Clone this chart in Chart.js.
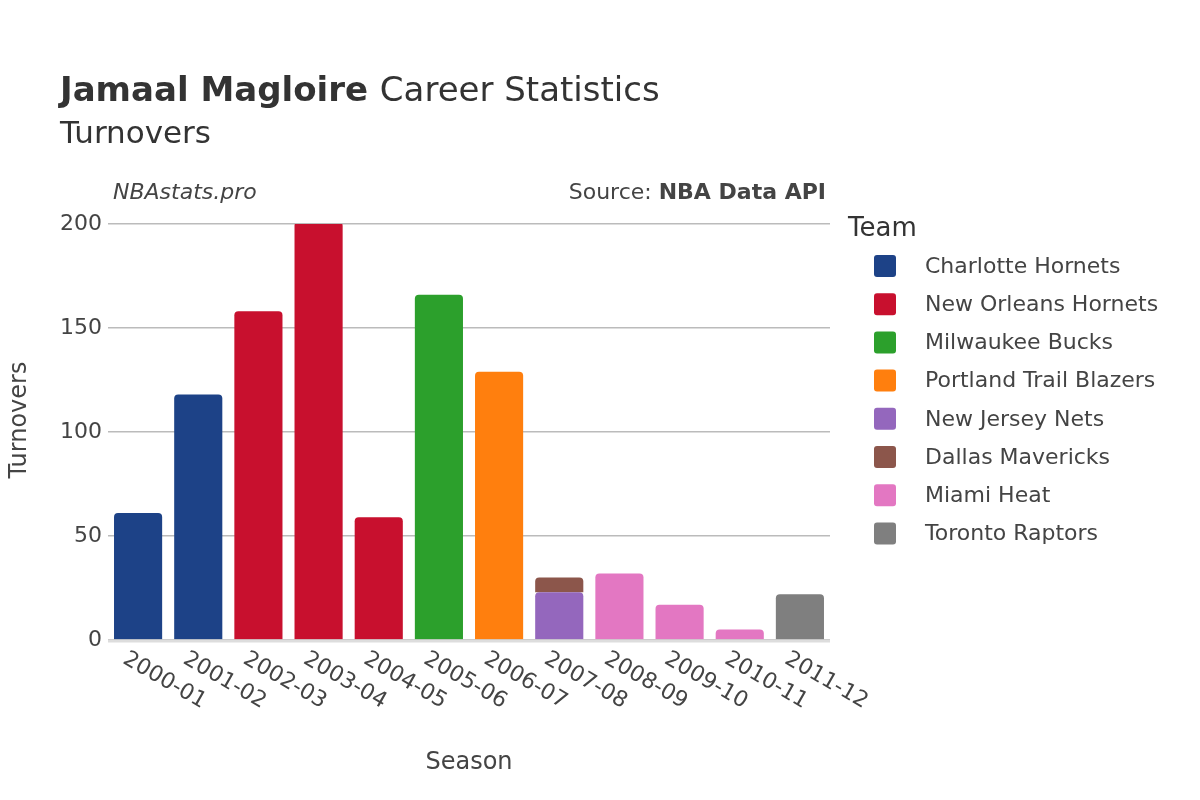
<!DOCTYPE html>
<html><head><meta charset="utf-8">
<script src="https://cdn.jsdelivr.net/npm/chart.js@4/dist/chart.umd.min.js"></script>
<style>body{margin:0;background:#fff}</style></head>
<body><canvas id="c" width="1200" height="800"></canvas>
<script>
const seasons=["2000-01","2001-02","2002-03","2003-04","2004-05","2005-06","2006-07","2007-08","2008-09","2009-10","2010-11","2011-12"];
const teams=["Charlotte Hornets","New Orleans Hornets","Milwaukee Bucks","Portland Trail Blazers","New Jersey Nets","Dallas Mavericks","Miami Heat","Toronto Raptors"];
const colors=["#1d4287","#c8102e","#2ca02c","#ff7f0e","#9467bd","#8c564b","#e377c2","#7f7f7f"];
const charlotte=[61,118,null,null,null,null,null,null,null,null,null,null];
const newOrleans=[null,null,158,201,59,null,null,null,null,null,null,null];
const milwaukee=[null,null,null,null,null,166,null,null,null,null,null,null];
const portland=[null,null,null,null,null,null,129,null,null,null,null,null];
const newJersey=[null,null,null,null,null,null,null,23,null,null,null,null];
const dallas=[null,null,null,null,null,null,null,7,null,null,null,null];
const miami=[null,null,null,null,null,null,null,null,32,17,5,null];
const toronto=[null,null,null,null,null,null,null,null,null,null,null,22];
const yTicks=[0,50,100,150,200];
const series=[charlotte,newOrleans,milwaukee,portland,newJersey,dallas,miami,toronto];
const F='"DejaVu Sans", sans-serif';
const deco={id:'deco',afterDraw(ch){const c=ch.ctx;c.save();
c.fillStyle='#333';c.textBaseline='alphabetic';c.textAlign='left';
c.font='bold 34px '+F;c.fillText('Jamaal Magloire',60,101);
const w=c.measureText('Jamaal Magloire ').width;c.font='34px '+F;c.fillText('Career Statistics',60+w,101);
c.font='31px '+F;c.fillText('Turnovers',60,143);
c.font='italic 22px '+F;c.fillStyle='#444';c.fillText('NBAstats.pro',113,199);
c.textAlign='right';c.font='bold 22px '+F;c.fillText('NBA Data API',826,199);
const bw=c.measureText('NBA Data API').width;c.font='22px '+F;c.fillText('Source: ',826-bw,199);
c.textAlign='left';c.font='26px '+F;c.fillStyle='#333';c.fillText('Team',848,236);
c.font='22px '+F;
teams.forEach((t,i)=>{const y=266+i*38.2;c.fillStyle=colors[i];c.beginPath();c.roundRect(874,y-11,22,22,3);c.fill();
c.fillStyle='#444';c.textBaseline='middle';c.fillText(t,925,y+1);});
const xs=ch.scales.x;c.font='22px '+F;c.fillStyle='#444';c.textBaseline='top';
seasons.forEach((s,i)=>{const x=xs.getPixelForTick(i);c.save();c.translate(x-8,648);c.rotate(Math.PI/6);c.textAlign='left';c.fillText(s,0,0);c.restore();});
c.textAlign='center';c.textBaseline='alphabetic';c.font='24px '+F;c.fillText('Season',469,769);
c.save();c.translate(26,420);c.rotate(-Math.PI/2);c.fillText('Turnovers',0,0);c.restore();
c.strokeStyle='#ddd';c.lineWidth=3;c.beginPath();c.moveTo(108,641);c.lineTo(830,641);c.stroke();
c.restore();}};
new Chart(document.getElementById('c'),{type:'bar',
data:{labels:seasons,datasets:teams.map((t,i)=>({label:t,data:series[i],backgroundColor:colors[i],borderRadius:{topLeft:4,topRight:4},borderSkipped:'bottom',barPercentage:0.8,categoryPercentage:1}))},
options:{responsive:false,animation:false,layout:{padding:{left:0,top:224,right:370,bottom:160}},
plugins:{legend:{display:false},tooltip:{enabled:false}},
scales:{x:{stacked:true,ticks:{display:false},grid:{display:false},border:{display:false},afterFit(s){s.height=0;}},
y:{stacked:true,min:0,max:200,afterBuildTicks(s){s.ticks=yTicks.map(v=>({value:v}));},afterFit(s){s.width=108;},
ticks:{font:{size:22,family:F},color:'#444',padding:6},grid:{color:'#bbb',lineWidth:1.5,drawTicks:false},border:{display:false}}}},
plugins:[deco]});
</script></body></html>
